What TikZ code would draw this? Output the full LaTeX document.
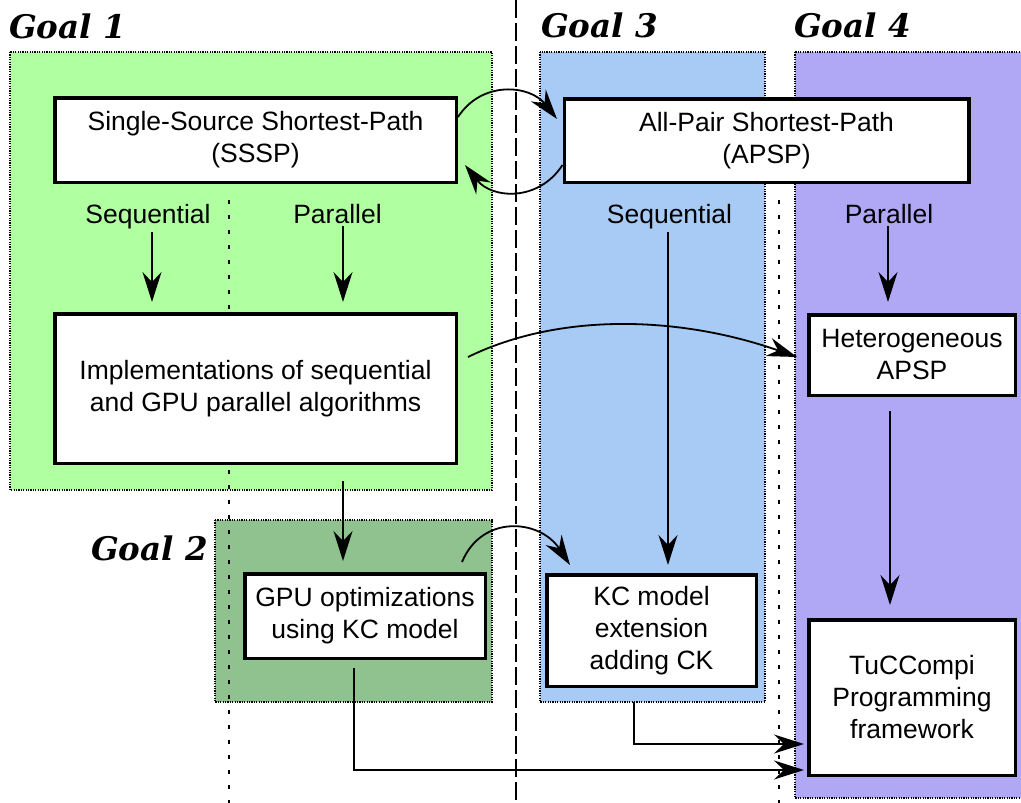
\documentclass[tikz,border=0pt]{standalone}
\usepackage{fontspec}
\setmainfont{Liberation Sans}
\newfontfamily\goalfont{DejaVu Serif}
\usetikzlibrary{arrows.meta,calc}
\definecolor{gone}{RGB}{176,255,160}
\definecolor{gtwo}{RGB}{143,194,143}
\definecolor{gthree}{RGB}{168,203,245}
\definecolor{gfour}{RGB}{176,168,245}
\begin{document}
\begin{tikzpicture}[x=1pt,y=-1pt,
 region/.style={draw=black, line width=2.5pt, dash pattern=on 1.2pt off 1.2pt},
 box/.style={draw=black, fill=white, line width=3.5pt, align=center, inner sep=0pt, font=\fontsize{26.5}{32}\selectfont},
 lbl/.style={font=\fontsize{26.5}{32}\selectfont, inner sep=0pt, anchor=base},
 goal/.style={font=\goalfont\bfseries\itshape\fontsize{32.5}{36}\selectfont, anchor=base west, inner sep=0pt},
 conn/.style={line width=1.8pt, -{Stealth[length=30pt,width=19pt,inset=10pt]}},
 elbow/.style={line width=1.8pt, -{Stealth[length=30pt,width=19pt,inset=10pt]}},
 vdots/.style={line width=2.5pt, dash pattern=on 4pt off 11pt},
 vdash/.style={line width=2.8pt, dash pattern=on 18pt off 5pt}]
\useasboundingbox (0,0) rectangle (1021,803);

% regions
\path[region, fill=gone] (10,52) rectangle (492,490);
\path[region, fill=gtwo] (215,520) rectangle (492,702);
\path[region, fill=gthree] (540,52) rectangle (765,702);
\path[region, fill=gfour] (795,52) rectangle (1035,798);

% separators
\draw[vdots] (229,200) -- (229,803);
\draw[vdash] (516,0) -- (516,803);
\draw[vdots] (779,200) -- (779,803);

% goal titles
\node[goal] (g1) at (9,38) {Goal 1};
\node[goal] (g2) at (91,560) {Goal 2};
\node[goal] (g3) at (541,37) {Goal 3};
\node[goal] (g4) at (794,37) {Goal 4};

% boxes
\node[box, minimum width=401.5pt, minimum height=84.5pt] (sssp) at (255.5,140) {Single-Source Shortest-Path\\(SSSP)};
\node[box, minimum width=404.5pt, minimum height=83.5pt] (apsp) at (766.5,140.5) {All-Pair Shortest-Path\\(APSP)};
\node[box, minimum width=401.5pt, minimum height=149.5pt] (impl) at (255.5,388.5) {Implementations of sequential\\and GPU parallel algorithms};
\node[box, minimum width=206.5pt, minimum height=80.5pt] (hetero) at (912,355) {Heterogeneous\\APSP};
\node[box, minimum width=206.5pt, minimum height=155.5pt] (tuc) at (912,697.5) {TuCCompi\\Programming\\framework};
\node[box, minimum width=240.5pt, minimum height=84.5pt] (gpu) at (365,616) {GPU optimizations\\using KC model};
\node[box, minimum width=209.5pt, minimum height=111.5pt] (kc) at (651.5,630.5) {KC model\\extension\\adding CK};

% labels
\node[lbl] (seqA) at (148,223) {Sequential};
\node[lbl] (parA) at (337.5,223) {Parallel};
\node[lbl] (seqB) at (669.5,223) {Sequential};
\node[lbl] (parB) at (889,223) {Parallel};

% straight connectors
\draw[conn] ($(seqA.south)+(4,3)$) -- ($(seqA.south |- impl.north)+(4,-10)$);
\draw[conn] ($(parA.south)+(5.5,3)$) -- ($(parA.south |- impl.north)+(5.5,-10)$);
\draw[conn] ($(impl.south -| gpu.north)+(-22,16)$) -- ($(gpu.north)+(-22,-11)$);
\draw[conn] ($(seqB.south)+(-1.5,3)$) -- ($(seqB.south |- kc.north)+(-1.5,-8)$);
\draw[conn] ($(parB.south)+(-1,3)$) -- ($(parB.south |- hetero.north)+(-1,-11)$);
\draw[conn] ($(hetero.south)+(-22,14)$) -- ($(hetero.south |- tuc.north)+(-22,-13)$);

% elbow connectors
\draw[elbow] ($(gpu.south)+(-11,8)$) |- ($(tuc.west)+(-3,72.5)$);
\draw[elbow] ($(kc.south)+(-17.5,14)$) |- ($(tuc.west)+(-3,46.5)$);

% curved connectors
\draw[conn] ([yshift=23pt]sssp.east) .. controls +(24,-37) and +(-27,-34) .. ([xshift=-5.5pt,yshift=21.5pt]apsp.west);
\draw[conn] ([yshift=-24.5pt]apsp.west) .. controls +(-24,37) and +(27,34) .. ([xshift=7pt,yshift=-25pt]sssp.east);
\draw[conn] ([xshift=10pt,yshift=31.5pt]impl.east) .. controls +(92,-45) and +(-117,-41) .. ([xshift=-10pt,yshift=-2pt]hetero.west);
\draw[conn] ([xshift=-25pt,yshift=10pt]gpu.north east) .. controls +(20,-48) and +(-30,-46) .. ([xshift=25pt,yshift=8pt]kc.north west);
\end{tikzpicture}
\end{document}
